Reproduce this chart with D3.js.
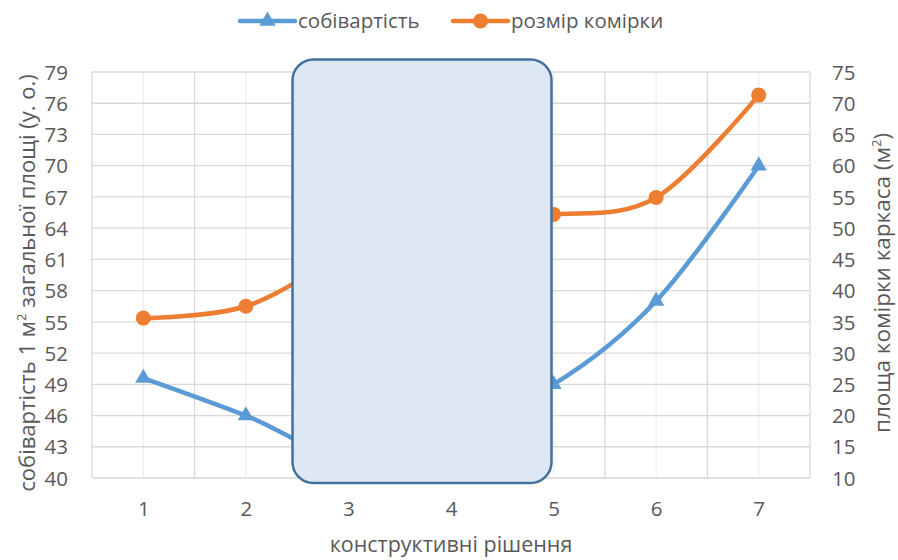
<!DOCTYPE html>
<html>
<head>
<meta charset="utf-8">
<script src="https://cdn.jsdelivr.net/npm/d3@7"></script>
<style>
  body { margin: 0; background: #fff; }
  svg text { font-family: "Open Sans", "Noto Sans", sans-serif; fill: #595959; }
</style>
</head>
<body>
<div id="chart"></div>
<script>
// chart data
const categories = [1, 2, 3, 4, 5, 6, 7];
const costValues = [49.6, 46.0, 42.0, 45.0, 49.0, 57.0, 70.0];   // left axis
const cellValues = [35.6, 37.5, 46.0, 52.5, 52.2, 54.9, 71.3];   // right axis
const leftTicks = [40, 43, 46, 49, 52, 55, 58, 61, 64, 67, 70, 73, 76, 79];
const rightTicks = [10, 15, 20, 25, 30, 35, 40, 45, 50, 55, 60, 65, 70, 75];
const seriesNames = ["собівартість", "розмір комірки"];

const width = 898, height = 560;
const plot = { left: 92, right: 810, top: 72, bottom: 478 };
const blue = "#5b9bd5", orange = "#ed7d31";

const svg = d3.select("#chart").append("svg")
    .attr("width", width)
    .attr("height", height);

const x = d3.scalePoint()
    .domain(categories)
    .range([plot.left, plot.right])
    .padding(0.5);
const step = x.step();

const yL = d3.scaleLinear().domain([40, 79]).range([plot.bottom, plot.top]);
const yR = d3.scaleLinear().domain([10, 75]).range([plot.bottom, plot.top]);

// minor vertical gridlines (at the categories)
svg.append("g")
    .selectAll("line")
    .data(categories)
    .enter().append("line")
    .attr("x1", d => x(d)).attr("x2", d => x(d))
    .attr("y1", plot.top).attr("y2", plot.bottom)
    .style("stroke", "#efefef")
    .style("stroke-width", 1.3);

// major vertical gridlines (category borders)
const borders = d3.range(categories.length + 1);
svg.append("g")
    .selectAll("line")
    .data(borders)
    .enter().append("line")
    .attr("x1", i => plot.left + i * step).attr("x2", i => plot.left + i * step)
    .attr("y1", plot.top).attr("y2", plot.bottom)
    .style("stroke", "#d9d9d9")
    .style("stroke-width", 1.3);

// horizontal gridlines
svg.append("g")
    .selectAll("line")
    .data(leftTicks)
    .enter().append("line")
    .attr("x1", plot.left).attr("x2", plot.right)
    .attr("y1", d => yL(d)).attr("y2", d => yL(d))
    .style("stroke", "#d9d9d9")
    .style("stroke-width", 1.3);

// left axis
const leftAxis = svg.append("g")
    .attr("transform", `translate(${plot.left - 24},0)`)
    .call(d3.axisLeft(yL).tickValues(leftTicks).tickSize(0).tickPadding(0));
leftAxis.select(".domain").remove();
leftAxis.selectAll("text").style("font-size", "20.5px").attr("dy", "0.35em");

// right axis
const rightAxis = svg.append("g")
    .attr("transform", `translate(${plot.right + 22},0)`)
    .call(d3.axisRight(yR).tickValues(rightTicks).tickSize(0).tickPadding(0));
rightAxis.select(".domain").remove();
rightAxis.selectAll("text").style("font-size", "20.5px").attr("dy", "0.35em");

// bottom axis
const bottomAxis = svg.append("g")
    .attr("transform", `translate(0,${plot.bottom})`)
    .call(d3.axisBottom(x).tickSize(0).tickPadding(23));
bottomAxis.select(".domain").remove();
bottomAxis.selectAll("text").style("font-size", "20.5px");

// axis titles
svg.append("text")
    .attr("transform", "translate(35,283) rotate(-90)")
    .attr("text-anchor", "middle")
    .style("font-size", "22px")
    .html('собівартість 1 м<tspan dy="-9" style="font-size:13px">2</tspan><tspan dy="9"> загальної площі (у. о.)</tspan>');

svg.append("text")
    .attr("transform", "translate(890,283) rotate(-90)")
    .attr("text-anchor", "middle")
    .style("font-size", "22.5px")
    .html('площа комірки каркаса (м<tspan dy="-9" style="font-size:13px">2</tspan><tspan dy="9">)</tspan>');

svg.append("text")
    .attr("x", (plot.left + plot.right) / 2)
    .attr("y", 552)
    .attr("text-anchor", "middle")
    .style("font-size", "21.5px")
    .text("конструктивні рішення");

// lines
const lineL = d3.line()
    .x((d, i) => x(categories[i]))
    .y(d => yL(d))
    .curve(d3.curveCatmullRom.alpha(0));
const lineR = d3.line()
    .x((d, i) => x(categories[i]))
    .y(d => yR(d))
    .curve(d3.curveCatmullRom.alpha(0));

svg.append("path")
    .attr("d", lineL(costValues))
    .style("fill", "none")
    .style("stroke", blue)
    .style("stroke-width", 4.5)
    .style("stroke-linecap", "round");

svg.append("path")
    .attr("d", lineR(cellValues))
    .style("fill", "none")
    .style("stroke", orange)
    .style("stroke-width", 4.5)
    .style("stroke-linecap", "round");

const tri = d3.symbol().type(d3.symbolTriangle).size(115);

svg.append("g")
    .selectAll("path")
    .data(costValues)
    .enter().append("path")
    .attr("d", tri)
    .attr("transform", (d, i) => `translate(${x(categories[i])},${yL(d)})`)
    .style("fill", blue);

svg.append("g")
    .selectAll("circle")
    .data(cellValues)
    .enter().append("circle")
    .attr("cx", (d, i) => x(categories[i]))
    .attr("cy", d => yR(d))
    .attr("r", 7.5)
    .style("fill", orange);

// rounded box covering the middle of the chart
svg.append("rect")
    .attr("x", 292.5)
    .attr("y", 59.5)
    .attr("width", 259)
    .attr("height", 423.5)
    .attr("rx", 21)
    .style("fill", "#dee8f4")
    .style("stroke", "#41719c")
    .style("stroke-width", 2.5);

// legend
const legend = svg.append("g");
const legendItems = [
    { name: seriesNames[0], color: blue, x0: 240, marker: "tri" },
    { name: seriesNames[1], color: orange, x0: 453, marker: "circle" }
];
legendItems.forEach(item => {
    const g = legend.append("g");
    g.append("line")
        .attr("x1", item.x0).attr("x2", item.x0 + 55)
        .attr("y1", 21).attr("y2", 21)
        .style("stroke", item.color)
        .style("stroke-width", 4.5)
        .style("stroke-linecap", "round");
    if (item.marker === "tri") {
        g.append("path")
            .attr("d", tri)
            .attr("transform", `translate(${item.x0 + 27.5},21)`)
            .style("fill", item.color);
    } else {
        g.append("circle")
            .attr("cx", item.x0 + 27.5).attr("cy", 21).attr("r", 7.5)
            .style("fill", item.color);
    }
    g.append("text")
        .attr("x", item.x0 + 58)
        .attr("y", 21)
        .attr("dy", "0.35em")
        .style("font-size", "20.5px")
        .text(item.name);
});
</script>
</body>
</html>
